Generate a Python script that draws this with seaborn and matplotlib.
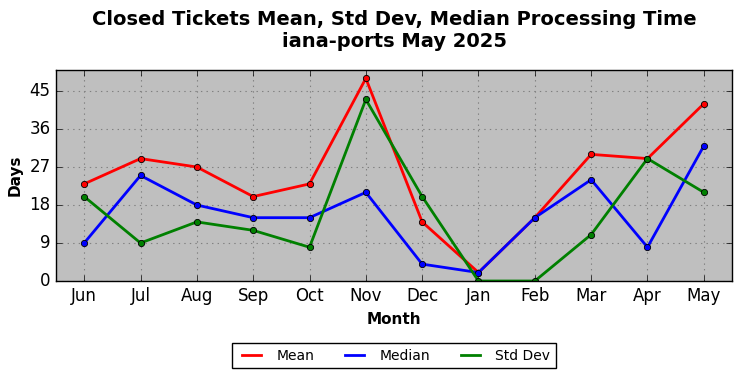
import pandas as pd
import seaborn as sns
import matplotlib
matplotlib.use("Agg")
import matplotlib.pyplot as plt

months = ["Jun", "Jul", "Aug", "Sep", "Oct", "Nov", "Dec", "Jan", "Feb", "Mar", "Apr", "May"]
mean_days = [23, 29, 27, 20, 23, 48, 14, 2, 15, 30, 29, 42]
median_days = [9, 25, 18, 15, 15, 21, 4, 2, 15, 24, 8, 32]
std_days = [20, 9, 14, 12, 8, 43, 20, 0, 0, 11, 29, 21]
y_ticks = [0, 9, 18, 27, 36, 45]

plt.style.use("classic")
plt.rcParams["font.family"] = ["DejaVu Sans"]

df = pd.DataFrame({
    "Month": months * 3,
    "Days": mean_days + median_days + std_days,
    "Stat": ["Mean"] * 12 + ["Median"] * 12 + ["Std Dev"] * 12,
})
df["x"] = list(range(12)) * 3

fig = plt.figure(figsize=(7.42, 3.78), dpi=100)
ax = fig.add_axes([0.0755, 0.2566, 0.911, 0.5584])
ax.set_facecolor("#bfbfbf")

sns.lineplot(data=df, x="x", y="Days", hue="Stat",
             palette={"Mean": "red", "Median": "blue", "Std Dev": "green"},
             marker="o", markersize=4.5, markeredgecolor="black", markeredgewidth=0.6,
             linewidth=2, ax=ax, legend=False)

ax.set_xlim(-0.5, 11.5)
ax.set_ylim(0, 50)
ax.set_xticks(range(12))
ax.set_xticklabels(months, fontsize=12)
ax.set_yticks(y_ticks)
ax.tick_params(axis="y", labelsize=12)
ax.grid(True, color="gray", linestyle=":", linewidth=0.8)
ax.set_axisbelow(True)
ax.set_xlabel("Month", fontsize=11, fontweight="bold")
ax.set_ylabel("Days", fontsize=11, fontweight="bold")
ax.set_title("Closed Tickets Mean, Std Dev, Median Processing Time\niana-ports May 2025",
             fontsize=14, fontweight="bold", y=1.078)

handles = [plt.Line2D([], [], color=c, linewidth=2) for c in ["red", "blue", "green"]]
ax.legend(handles, ["Mean", "Median", "Std Dev"], loc="lower center",
          bbox_to_anchor=(0.5, -0.446), ncol=3, fontsize=10, fancybox=False,
          framealpha=1, edgecolor="black", handlelength=2, columnspacing=1.9)

fig.savefig("out.png", dpi=100)
